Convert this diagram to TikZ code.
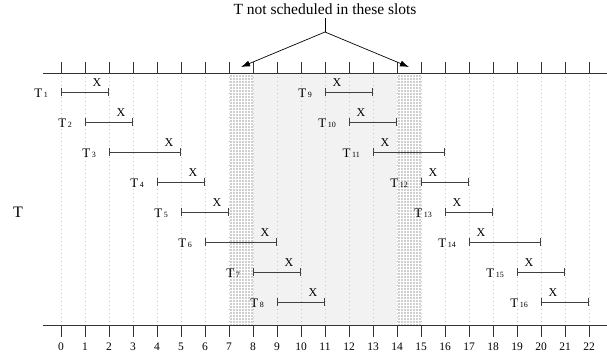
\documentclass[tikz,border=0pt]{standalone}
\usepackage{fontspec}
\setmainfont{Liberation Serif}
\usetikzlibrary{arrows.meta}

\tikzset{
  axis/.style={draw=black!80, line width=0.9pt},
  slotline/.style={draw=gray!45, line width=0.7pt, dash pattern=on 1pt off 3pt},
  span/.style={draw=black!75, line width=1pt, {Bar[width=8pt]}-{Bar[width=8pt]}},
  tlabel/.style={anchor=base east, inner sep=0pt, font=\fontsize{13}{13}\selectfont},
  xlabel/.style={anchor=base, inner sep=0pt, font=\fontsize{12}{12}\selectfont},
  pointer/.style={draw=black, line width=0.7pt, -{Latex[length=9pt,width=6pt]}}
}
\newcommand{\tsub}[1]{T\kern1.5pt{\fontsize{8}{8}\selectfont #1}}

\begin{document}
\begin{tikzpicture}[x=24pt,y=-30pt]
  \useasboundingbox (-2.5417,-2.0667) rectangle (22.75,9.9333);

  % blocked slots
  \fill[gray!10] (8,0.367) rectangle (14,8.767);
  \begin{scope}
    \fill[gray!38] (7,0.367) rectangle (8,8.767);
    \fill[gray!38] (14,0.367) rectangle (15,8.767);
    \clip (7,0.367) rectangle (8,8.767) (14,0.367) rectangle (15,8.767);
    \draw[white, line width=0.8pt, step=3pt] (7,0) grid (15,9);
  \end{scope}

  % slot grid and axes
  \foreach \s in {0,...,22} {
    \draw[slotline] (\s,0.367) -- (\s,8.767);
    \draw[axis] (\s,0) -- (\s,0.367);
    \draw[axis] (\s,8.767) -- (\s,9.167);
    \node[anchor=base, inner sep=0pt, font=\fontsize{11.5}{11.5}\selectfont] (n\s) at (\s,9.6) {\s};
  }
  \draw[axis] (-0.75,0.367) -- (22.75,0.367);
  \draw[axis] (-0.75,8.767) -- (22.75,8.767);

  \node[anchor=base, inner sep=0pt, font=\fontsize{16}{16}\selectfont] (tasks) at (-1.79,5.17) {T};

  % task windows: id/start/end/row/slot of X
  \foreach \i/\a/\b/\r/\x in {1/0/2/1/1.5, 2/1/3/2/2.5, 3/2/5/3/4.5, 4/4/6/4/5.5,
      5/5/7/5/6.5, 6/6/9/6/8.5, 7/8/10/7/9.5, 8/9/11/8/10.5,
      9/11/13/1/11.5, 10/12/14/2/12.5, 11/13/16/3/13.5, 12/15/17/4/15.5,
      13/16/18/5/16.5, 14/17/20/6/17.5, 15/19/21/7/19.5, 16/20/22/8/20.5} {
    \coordinate (s\i) at (\a,\r);
    \coordinate (e\i) at (\b,\r);
    \draw[span] (s\i) -- (e\i);
    \node[tlabel] (t\i) at ([xshift=-13pt,yshift=-5pt]s\i) {\tsub{\i}};
    \node[xlabel] (x\i) at (\x,\r-0.17) {X};
  }

  % note
  \node[anchor=base, inner sep=3pt, font=\fontsize{15.5}{15.5}\selectfont] (note) at (11,-1.567) {T not scheduled in these slots};
  \coordinate (split) at (11,-1);
  \coordinate (tipL) at (7.5,0.167);
  \coordinate (tipR) at (14.5,0.167);
  \draw[line width=0.7pt] (note.south) -- (split);
  \draw[pointer] (split) -- (tipL);
  \draw[pointer] (split) -- (tipR);
\end{tikzpicture}
\end{document}
